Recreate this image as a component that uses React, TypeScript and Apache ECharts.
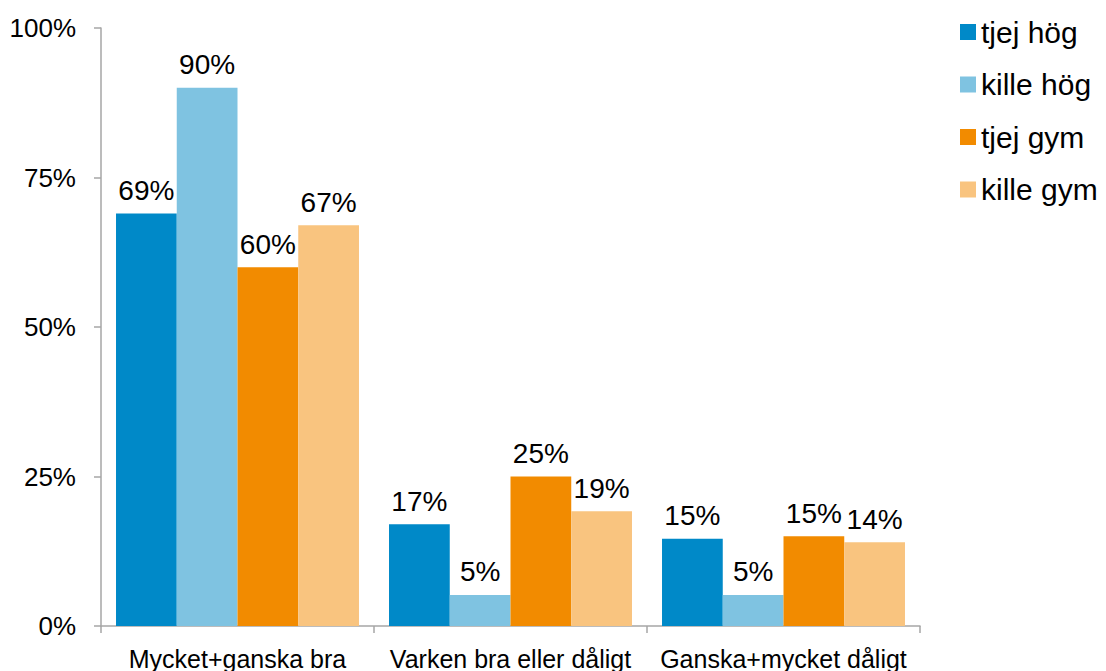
import React, { useEffect, useRef } from "react";
import * as echarts from "echarts";

const categories = ["Mycket+ganska bra", "Varken bra eller dåligt", "Ganska+mycket dåligt"];
const seriesNames = ["tjej hög", "kille hög", "tjej gym", "kille gym"];
const tjejHog = [69, 17, 14.6];
const killeHog = [90, 5.2, 5.2];
const tjejGym = [60, 25, 15];
const killeGym = [67, 19.2, 14];
const yTicks = [0, 25, 50, 75, 100];
const colors = ["#0089C8", "#7FC3E1", "#F28B00", "#F9C47F"];

export default function App() {
  const ref = useRef<HTMLDivElement>(null);
  useEffect(() => {
    if (!ref.current) return;
    const chart = echarts.init(ref.current, null, { renderer: "svg" });
    const font = "'Liberation Sans', Arial, sans-serif";
    const values = [tjejHog, killeHog, tjejGym, killeGym];
    chart.setOption({
      animation: false,
      textStyle: { fontFamily: font },
      grid: { left: 101, right: 186, top: 28, bottom: 43 },
      legend: {
        orient: "vertical",
        left: 955,
        top: 12,
        itemWidth: 16,
        itemHeight: 16,
        itemGap: 22.5,
        itemTextGap: 7,
        icon: "rect",
        textStyle: { fontSize: 30, color: "#000", fontFamily: font, lineHeight: 30 },
        data: seriesNames,
      },
      xAxis: {
        type: "category",
        data: categories,
        axisLine: { lineStyle: { color: "#A6A6A6", width: 1.5 } },
        axisTick: { show: true, length: 7, alignWithLabel: false, lineStyle: { color: "#A6A6A6", width: 1.5 } },
        axisLabel: { fontSize: 25, color: "#000", margin: 20, fontFamily: font, interval: 0 },
      },
      yAxis: {
        type: "value",
        min: yTicks[0],
        max: yTicks[yTicks.length - 1],
        interval: 25,
        splitLine: { show: false },
        axisLine: { show: true, lineStyle: { color: "#A6A6A6", width: 1.5 } },
        axisTick: { show: true, length: 7, lineStyle: { color: "#A6A6A6", width: 1.5 } },
        axisLabel: { fontSize: 26, color: "#000", margin: 25, fontFamily: font, formatter: "{value}%" },
      },
      series: seriesNames.map((name, i) => ({
        name,
        type: "bar",
        data: values[i],
        barGap: "0%",
        barCategoryGap: "11%",
        itemStyle: { color: colors[i] },
        label: {
          show: true,
          position: "top",
          distance: 9,
          fontSize: 28,
          color: "#000",
          fontFamily: font,
          formatter: (p: any) => Math.round(p.value) + "%",
        },
      })),
    });
    return () => chart.dispose();
  }, []);
  return (
    <div
      ref={ref}
      style={{ position: "fixed", left: 0, top: 0, width: 1106, height: 671, background: "#fff" }}
    />
  );
}
